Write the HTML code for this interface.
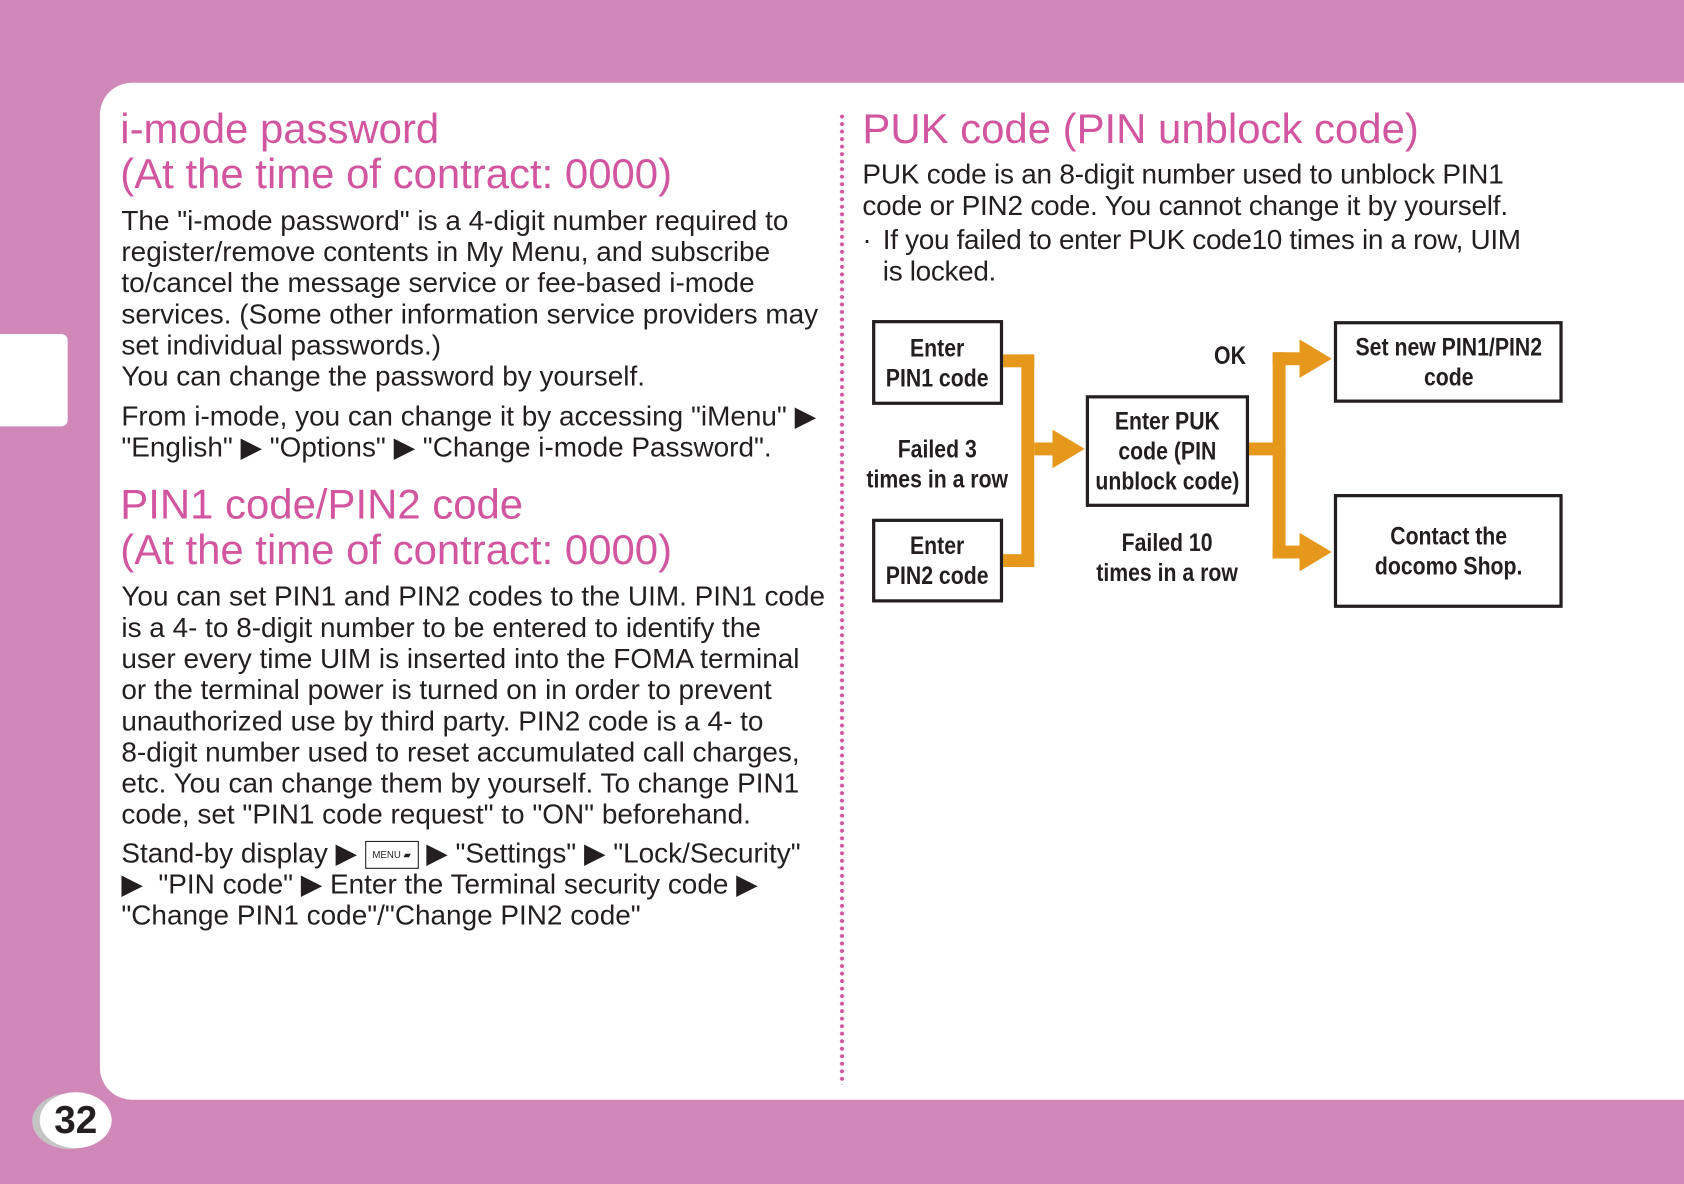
<!DOCTYPE html>
<html><head><meta charset="utf-8"><style>
html,body{margin:0;padding:0;}
body{width:1684px;height:1184px;overflow:hidden;background:#d088b9;}
#w{position:absolute;left:0;top:0;width:1568px;height:1102px;transform:scale(1.07398);transform-origin:0 0;font-family:"Liberation Sans",sans-serif;}
.panel{position:absolute;left:93px;top:77px;width:1475px;height:947px;background:#fff;border-radius:30px 0 0 30px;}
.tab{position:absolute;left:0;top:311px;width:63px;height:86px;background:#fff;border-radius:0 6px 6px 0;}
.h{position:absolute;color:#d2559f;font-size:39px;line-height:42px;white-space:nowrap;}
.t{position:absolute;color:#231f20;font-size:26px;line-height:29px;white-space:nowrap;}
.dots{position:absolute;left:782px;top:105px;width:4px;height:905px;background:radial-gradient(circle,#d2559f 1.8px,transparent 2px) 0 0/4px 7px repeat-y;}
.b{position:absolute;border:3px solid #231f20;background:#fff;box-sizing:border-box;display:flex;align-items:center;justify-content:center;text-align:center;}
.d{font-weight:bold;font-size:23px;line-height:28px;color:#231f20;}
.s{display:inline-block;transform:scaleX(.86);white-space:nowrap;flex-shrink:0;}
.l{position:absolute;text-align:center;white-space:nowrap;display:flex;justify-content:center;}
.o{position:absolute;background:#e5981c;}
.tri{position:absolute;width:0;height:0;border-top:18px solid transparent;border-bottom:18px solid transparent;border-left:30px solid #e5981c;}
.menu{display:inline-block;width:50px;height:26px;border:1.5px solid #231f20;font-size:9px;line-height:24px;vertical-align:middle;text-align:center;box-sizing:border-box;}
</style></head><body><div id="w">
<div class="panel"></div>
<div class="tab"></div>
<div style="position:absolute;left:30px;top:1018px;width:70px;height:52px;border-radius:50%;background:#c4c4c4;"></div>
<div style="position:absolute;left:37px;top:1017px;width:67px;height:52px;border-radius:50%;background:#fff;font-weight:bold;font-size:36px;line-height:52px;text-align:center;color:#231f20;">32</div>

<div class="h" style="left:112px;top:100px;">i-mode password</div>
<div class="h" style="left:112px;top:142px;">(At the time of contract: 0000)</div>
<div class="t" style="left:113px;top:191px;">The "i-mode password" is a 4-digit number required to<br>register/remove contents in My Menu, and subscribe<br>to/cancel the message service or fee-based i-mode<br>services. (Some other information service providers may<br>set individual passwords.)<br>You can change the password by yourself.</div>
<div class="t" style="left:113px;top:373px;">From i-mode, you can change it by accessing "iMenu" ▶<br>"English" ▶ "Options" ▶ "Change i-mode Password".</div>
<div class="h" style="left:112px;top:450px;">PIN1 code/PIN2 code</div>
<div class="h" style="left:112px;top:492px;">(At the time of contract: 0000)</div>
<div class="t" style="left:113px;top:541px;">You can set PIN1 and PIN2 codes to the UIM. PIN1 code<br>is a 4- to 8-digit number to be entered to identify the<br>user every time UIM is inserted into the FOMA terminal<br>or the terminal power is turned on in order to prevent<br>unauthorized use by third party. PIN2 code is a 4- to<br>8-digit number used to reset accumulated call charges,<br>etc. You can change them by yourself. To change PIN1<br>code, set "PIN1 code request" to "ON" beforehand.</div>
<div class="t" style="left:113px;top:780px;">Stand-by display ▶ <span class="menu">MENU ▰</span> ▶ "Settings" ▶ "Lock/Security"<br>▶ &nbsp;"PIN code" ▶ Enter the Terminal security code ▶<br>"Change PIN1 code"/"Change PIN2 code"</div>

<div class="dots"></div>

<div class="h" style="left:803px;top:100px;">PUK code (PIN unblock code)</div>
<div class="t" style="left:803px;top:148px;letter-spacing:-0.2px;">PUK code is an 8-digit number used to unblock PIN1<br>code or PIN2 code. You cannot change it by yourself.</div>
<div class="t" style="left:803px;top:209px;">·</div>
<div class="t" style="left:822px;top:209px;letter-spacing:-0.3px;">If you failed to enter PUK code10 times in a row, UIM<br>is locked.</div>

<div class="o" style="left:933px;top:330px;width:30px;height:12px;"></div>
<div class="o" style="left:951px;top:330px;width:12px;height:198px;"></div>
<div class="o" style="left:933px;top:516px;width:30px;height:12px;"></div>
<div class="o" style="left:963px;top:412px;width:20px;height:12px;"></div>
<div class="tri" style="left:980px;top:400px;"></div>

<div class="o" style="left:1160px;top:412px;width:37px;height:12px;"></div>
<div class="o" style="left:1185px;top:328px;width:12px;height:192px;"></div>
<div class="o" style="left:1185px;top:328px;width:28px;height:12px;"></div>
<div class="o" style="left:1185px;top:508px;width:28px;height:12px;"></div>
<div class="tri" style="left:1210px;top:316px;"></div>
<div class="tri" style="left:1210px;top:496px;"></div>

<div class="b d" style="left:812px;top:298px;width:122px;height:79px;"><span class="s">Enter<br>PIN1 code</span></div>
<div class="b d" style="left:812px;top:483px;width:122px;height:78px;"><span class="s">Enter<br>PIN2 code</span></div>
<div class="b d" style="left:1011px;top:368px;width:152px;height:104px;"><span class="s">Enter PUK<br>code (PIN<br>unblock code)</span></div>
<div class="b d" style="left:1242px;top:299px;width:213px;height:76px;"><span class="s">Set new PIN1/PIN2<br>code</span></div>
<div class="b d" style="left:1242px;top:460px;width:213px;height:106px;"><span class="s">Contact the<br>docomo Shop.</span></div>
<div class="l d" style="left:798px;top:404px;width:150px;"><span class="s">Failed 3<br>times in a row</span></div>
<div class="l d" style="left:1010px;top:491px;width:154px;"><span class="s">Failed 10<br>times in a row</span></div>
<div class="l d" style="left:1120px;top:317px;width:50px;"><span class="s">OK</span></div>
</div></body></html>
